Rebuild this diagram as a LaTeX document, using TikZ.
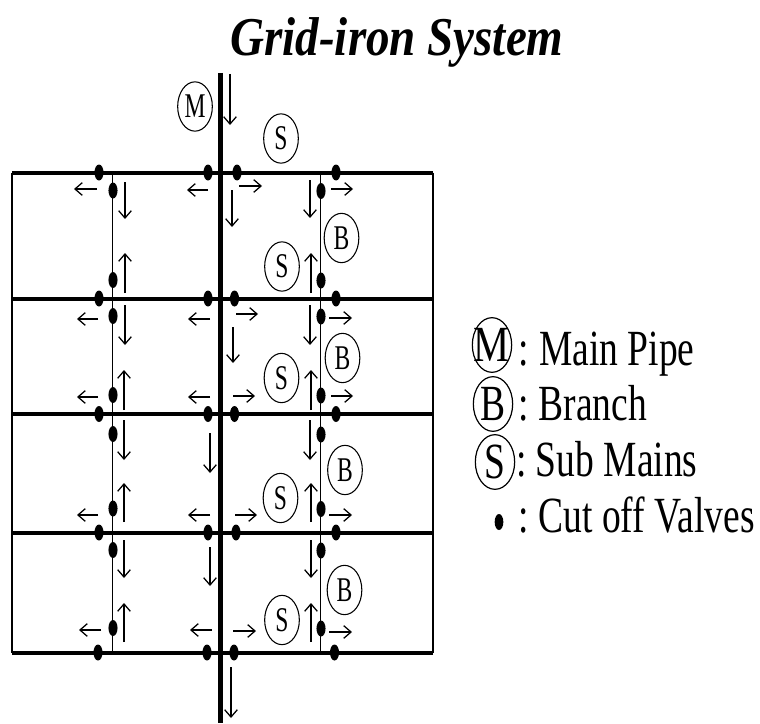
\documentclass[tikz,border=0pt]{standalone}
\usepackage{fontspec}
\usetikzlibrary{arrows.meta,shapes.geometric}
\setmainfont{Liberation Serif}
\newfontfamily\legfont[FakeStretch=0.74]{Liberation Serif}
\newfontfamily\legMfont[FakeStretch=0.8]{Liberation Serif}
\newfontfamily\tagfont[FakeStretch=0.68]{Liberation Serif}
\newfontfamily\titlefont[FakeStretch=0.86,BoldItalicFont={Liberation Serif Bold Italic}]{Liberation Serif}
\newcommand{\ctrtxt}[1]{\smash{\makebox[0pt]{\raisebox{-.33em}{#1}}}}
\tikzset{
  x=0.75pt,y=-0.75pt,
  header/.style={line width=3pt,black},
  mainpipe/.style={line width=3.8pt,black},
  thinpipe/.style={line width=1.3pt,black},
  flow/.style={line width=0.95pt,black,-{Straight Barb[length=5.5pt,width=9.5pt,line width=0.95pt]}},
  valve/.style={ellipse,fill=black,draw=none,minimum width=6.8pt,minimum height=12pt,inner sep=0pt},
  tag/.style={ellipse,draw=black,line width=0.8pt,inner sep=0pt,minimum width=26pt,minimum height=37pt,font=\tagfont\fontsize{26pt}{28pt}\selectfont},
  legtag/.style={ellipse,draw=black,line width=0.9pt,inner sep=0pt,minimum width=29.5pt,minimum height=41pt,font=\legfont\fontsize{38pt}{40pt}\selectfont},
  legtext/.style={anchor=base west,inner sep=0pt,font=\legfont\fontsize{38pt}{40pt}\selectfont},
}
\begin{document}
\begin{tikzpicture}
\useasboundingbox (0,0) rectangle (760,724);
\node[anchor=base,inner sep=0pt,font=\titlefont\fontsize{41pt}{43pt}\selectfont\bfseries\itshape] (title) at (397,56) {Grid-iron System};

% frame and pipes
\foreach \n/\y in {1/172.5,2/298.5,3/414,4/532.5,5/652.5}{
  \coordinate (l\n) at (12,\y);
  \coordinate (r\n) at (433,\y);
  \coordinate (a\n) at (112.5,\y);
  \coordinate (b\n) at (320.5,\y);
}
\coordinate (mt) at (220.5,73);
\coordinate (mb) at (220.5,723);
\draw[thinpipe] (l1) -- (l5);
\draw[thinpipe] (r1) -- (r5);
\draw[thinpipe] (a1) -- (a5);
\draw[thinpipe] (b1) -- (b5);
\foreach \n in {1,...,5}{\draw[header] (l\n) -- (r\n);}
\draw[mainpipe] (mt) -- (mb);

% valves on the sub mains
\foreach \n/\y/\xa/\xb/\xc/\xd in {1/172.5/99/208/237/336,2/298.5/99/208/234.5/336,3/414/99/208/234.5/336,4/532.5/99/208/236/336,5/652.5/98/207/234/334.5}{
  \node[valve] (va\n) at (\xa,\y) {};
  \node[valve] (vb\n) at (\xb,\y) {};
  \node[valve] (vc\n) at (\xc,\y) {};
  \node[valve] (vd\n) at (\xd,\y) {};
}
% valves on the branches
\foreach \n/\y in {1/190.5,2/280,3/316,4/395,5/434,6/508.5,7/550,8/628}{
  \node[valve] (ba\n) at (113,\y) {};
  \node[valve] (bb\n) at (321,\y+0.5) {};
}

% horizontal arrows
\foreach \xa/\xb/\y in {
  97/74/189, 98/77/319, 98/77/397, 98/77/515, 101/79/630,
  208/187/190, 210/188/319, 210/188/397, 210/188/515, 212/190/630,
  239/262/186, 236/258/314, 233/255/396, 235/257/515, 233/256/631,
  331/353/189, 329/352/318, 331/353/396, 329/352/515, 329/352/632}{
  \draw[flow] (\xa,\y) -- (\xb,\y);
}
% vertical arrows
\foreach \x/\ya/\yb in {
  125/182/219, 125/305/345, 124/420/460, 124/540/578,
  125/293/253, 124/410/370, 124/522/483, 124/642/603,
  232/190/227, 233/327/363, 210/433/473, 210/547/586,
  230/74/125, 231/667/718,
  310/180/218, 310/305/345, 310/420/460, 311/540/578,
  311/293/253, 311/410/370, 311/522/483, 311/642/603}{
  \draw[flow] (\x,\ya) -- (\x,\yb);
}

% circled labels
\node[tag] (tm) at (195,106.5) {\ctrtxt{M}};
\node[tag] (ts1) at (281,138.5) {\ctrtxt{S}};
\node[tag] (ts2) at (282,266.5) {\ctrtxt{S}};
\node[tag] (ts3) at (281.5,378) {\ctrtxt{S}};
\node[tag] (ts4) at (280.5,498) {\ctrtxt{S}};
\node[tag] (ts5) at (282,620) {\ctrtxt{S}};
\node[tag] (tb1) at (341.5,238) {\ctrtxt{B}};
\node[tag] (tb2) at (342.5,358) {\ctrtxt{B}};
\node[tag] (tb3) at (345,470) {\ctrtxt{B}};
\node[tag] (tb4) at (344.5,590) {\ctrtxt{B}};

% legend
\node[legtag] (lm) at (492,345) {\ctrtxt{\legMfont M}};
\node[legtag] (lb) at (493,404) {\ctrtxt{B}};
\node[legtag] (ls) at (495,462) {\ctrtxt{S}};
\node[ellipse,fill=black,inner sep=0pt,minimum width=6.5pt,minimum height=12pt] (ld) at (499,522) {};
\node[legtext] (tm2) at (518,365) {:\hspace{8pt}Main Pipe};
\node[legtext] (tb2x) at (518,420) {:\hspace{7.5pt}Branch};
\node[legtext] (ts2x) at (516,476) {:\hspace{7pt}Sub Mains};
\node[legtext] (td2) at (518,532) {:\hspace{7.5pt}Cut off Valves};
\end{tikzpicture}
\end{document}
